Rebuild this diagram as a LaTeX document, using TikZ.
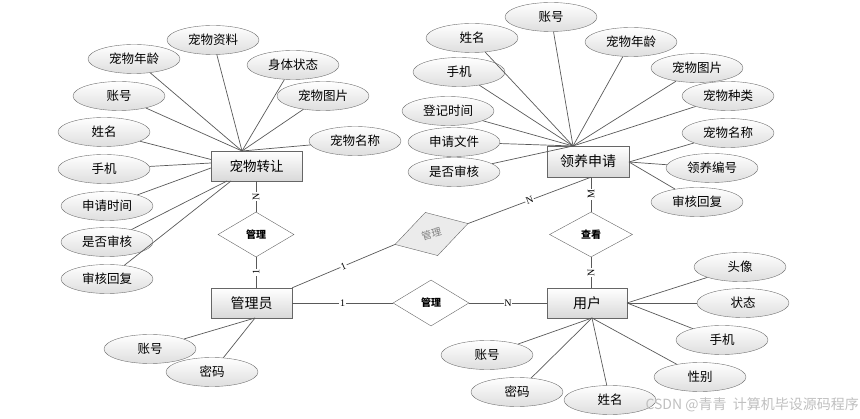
\documentclass[tikz,border=0pt]{standalone}
\usepackage{fontspec}
\setmainfont{Noto Sans CJK SC}
\newfontfamily\latinserif{Liberation Serif}
\usetikzlibrary{shapes.geometric}
\begin{document}
\begin{tikzpicture}[x=1pt,y=-1pt,
  attr/.style={ellipse, draw=black!55, top color=white, bottom color=black!13, minimum width=92pt, minimum height=29pt, inner sep=0pt, font=\fontsize{12.5}{14}\selectfont},
  ent/.style={rectangle, draw=black!60, top color=white, bottom color=black!15, minimum height=30pt, inner sep=0pt, font=\fontsize{14}{16}\selectfont},
  rel/.style={diamond, draw=black!60, fill=white, minimum width=76pt, minimum height=45pt, inner sep=0pt, font=\bfseries\fontsize{10}{12}\selectfont},
  ln/.style={draw=black!65, line width=0.7pt},
  card/.style={fill=white, inner sep=0.8pt, font=\latinserif\fontsize{10}{12}\selectfont}
]
\useasboundingbox (0,0) rectangle (860,419);

% entities
\node[ent, minimum width=91pt, font=\fontsize{13.5}{15}\selectfont] (zr) at (256.5,166) {宠物转让};
\node[ent, minimum width=82pt, minimum height=31pt] (ly) at (588,161.5) {领养申请};
\node[ent, minimum width=81pt] (gly) at (251.5,303) {管理员};
\node[ent, minimum width=80pt] (yh) at (587,303) {用户};

% relations
\node[rel] (r1) at (256,234.5) {管理};
\node[rel, rotate=16, fill=black!8, text=black!50, font=\fontsize{10}{12}\selectfont] (r2) at (431.5,234) {管理};
\node[rel, minimum width=83pt] (r3) at (591,234.5) {查看};
\node[rel, minimum height=46pt] (r4) at (431,303) {管理};

% attributes of 宠物转让
\node[attr] (a1) at (213,40) {宠物资料};
\node[attr] (a2) at (134,59) {宠物年龄};
\node[attr] (a3) at (293,65) {身体状态};
\node[attr] (a4) at (119,96) {账号};
\node[attr] (a5) at (323,96) {宠物图片};
\node[attr] (a6) at (104,132) {姓名};
\node[attr] (a7) at (355,141) {宠物名称};
\node[attr] (a8) at (104,169) {手机};
\node[attr] (a9) at (107,206) {申请时间};
\node[attr] (a10) at (107,242) {是否审核};
\node[attr] (a11) at (107,279) {审核回复};

\coordinate (zrT) at (242,151);
\coordinate (zrL1) at (211,159.5);
\coordinate (zrL2) at (211,163);
\coordinate (zrL3) at (211,168);
\coordinate (zrB1) at (227,181);
\coordinate (zrB2) at (231,181);
\foreach \a in {a1,a2,a3,a4,a5,a7} \draw[ln] (\a) -- (zrT);
\draw[ln] (a6) -- (zrL1);
\draw[ln] (a8) -- (zrL2);
\draw[ln] (a9) -- (zrL3);
\draw[ln] (a10) -- (zrB1);
\draw[ln] (a11) -- (zrB2);

% attributes of 领养申请
\node[attr] (b1) at (551,17) {账号};
\node[attr] (b2) at (472,38) {姓名};
\node[attr] (b3) at (631,42) {宠物年龄};
\node[attr] (b4) at (459,72) {手机};
\node[attr] (b5) at (697,68) {宠物图片};
\node[attr] (b6) at (728,96) {宠物种类};
\node[attr] (b7) at (448,111) {登记时间};
\node[attr] (b8) at (454,142) {申请文件};
\node[attr] (b9) at (728,133) {宠物名称};
\node[attr] (b10) at (454,172) {是否审核};
\node[attr] (b11) at (712,168) {领养编号};
\node[attr] (b12) at (697,202) {审核回复};

\coordinate (lyT) at (573,146);
\coordinate (lyR) at (629,162);
\foreach \b in {b1,b2,b3,b4,b5,b6,b7,b8,b10} \draw[ln] (\b) -- (lyT);
\foreach \b in {b9,b11,b12} \draw[ln] (\b) -- (lyR);

% attributes of 用户
\node[attr] (c1) at (740,267) {头像};
\node[attr] (c2) at (743,303) {状态};
\node[attr] (c3) at (722,340) {手机};
\node[attr] (c4) at (700,377) {性别};
\node[attr] (c5) at (610,400) {姓名};
\node[attr] (c6) at (517,392) {密码};
\node[attr] (c7) at (487,355) {账号};
\coordinate (yhR) at (627,303);
\coordinate (yhB) at (592,318);
\foreach \c in {c1,c2,c3} \draw[ln] (\c) -- (yhR);
\foreach \c in {c4,c5,c6,c7} \draw[ln] (\c) -- (yhB);

% attributes of 管理员
\node[attr] (d1) at (150,349) {账号};
\node[attr] (d2) at (212,372) {密码};
\coordinate (glyB) at (255,318);
\draw[ln] (d1) -- (glyB);
\draw[ln] (d2) -- (glyB);

% relationship connectors
\draw[ln] (zr.south -| r1.north) -- node[card, rotate=90] {N} (r1.north);
\draw[ln] (r1.south) -- node[card, rotate=90] {1} (r1.south |- gly.north);
\draw[ln] (r3.north |- ly.south) -- node[card, rotate=90] {M} (r3.north);
\draw[ln] (r3.south) -- node[card, rotate=90] {N} (r3.south |- yh.north);
\draw[ln] (gly.east) -- node[card] {1} (r4.west);
\draw[ln] (r4.east) -- node[card] {N} (yh.west);
\draw[ln] (gly.north east) -- node[card, sloped] {1} (r2.west);
\draw[ln] (r2.east) -- node[card, sloped] {N} (r3.north |- ly.south);

% watermark
\node[anchor=east, text=black!25, font=\fontsize{14}{16}\selectfont, inner sep=0pt] (wm) at (859,405) {CSDN @青青\ \ 计算机毕设源码程序};
\end{tikzpicture}
\end{document}
